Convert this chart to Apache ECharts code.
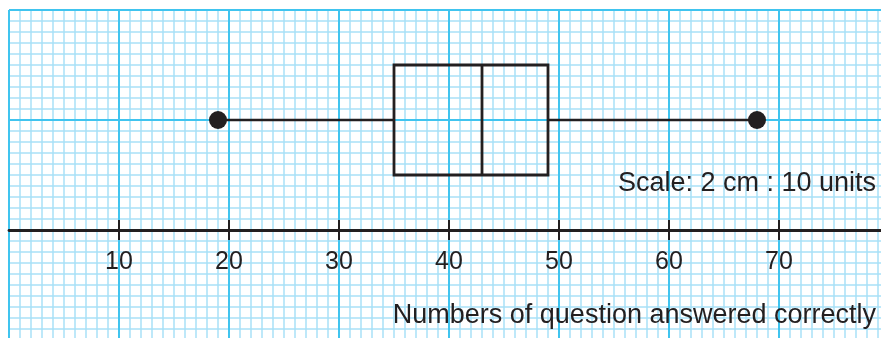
<!DOCTYPE html>
<html>
<head>
<meta charset="utf-8">
<script src="https://cdn.jsdelivr.net/npm/echarts@6/dist/echarts.min.js"></script>
<style>
html, body { margin: 0; padding: 0; background: #fff; }
#chartmain { width: 881px; height: 338px; }
</style>
</head>
<body>
<div id="chartmain"></div>
<script>
// five-number summary: min, Q1, median, Q3, max
var summaryValues = [19, 35, 43, 49, 68];
var tickValues = [10, 20, 30, 40, 50, 60, 70];
var axisTitle = 'Numbers of question answered correctly';
var scaleNote = 'Scale: 2 cm : 10 units';

var ink = '#231f20';
var majorBlue = '#40c4ef';
var minorBlue = '#a8e1f7';
var font = "'Liberation Sans', Arial, Helvetica, sans-serif";

// graph paper lines: one hidden axis per spacing
function paperAxis(interval, color, width, min, max, z) {
    return {
        gridIndex: 0, type: 'value', min: min, max: max, interval: interval, z: z,
        axisLine: { show: false, onZero: false },
        axisTick: { show: false },
        axisLabel: { show: false },
        splitLine: { show: true, lineStyle: { color: color, width: width } }
    };
}

var myChart = echarts.init(document.getElementById('chartmain'));

var option = {
    animation: false,
    grid: [
        { left: 9, top: 10, width: 880, height: 330, outerBoundsMode: 'none', containLabel: false },   // paper
        { left: 9, top: 10, width: 880, height: 220, outerBoundsMode: 'none', containLabel: false }    // plot, axis at bottom
    ],
    title: [
        { text: scaleNote, right: 5, top: 170, padding: 0,
          textStyle: { fontSize: 27, fontWeight: 'normal', color: ink, fontFamily: font } },
        { text: axisTitle, right: 5, top: 302, padding: 0,
          textStyle: { fontSize: 27, fontWeight: 'normal', color: ink, fontFamily: font } }
    ],
    xAxis: [
        paperAxis(1, minorBlue, 1.5, 0, 80, 0),
        paperAxis(10, majorBlue, 2, 0, 80, 1),
        {
            gridIndex: 1, type: 'value', min: 0, max: 80, interval: 10, position: 'bottom', z: 5,
            axisLine: { show: true, onZero: false, lineStyle: { color: ink, width: 2.8 } },
            axisTick: { show: true, customValues: tickValues, length: 10, lineStyle: { color: ink, width: 2 } },
            axisLabel: { customValues: tickValues, fontSize: 25, color: ink, margin: 20, fontFamily: font },
            splitLine: { show: false }
        },
        {
            // tick halves above the line
            gridIndex: 1, type: 'value', min: 0, max: 80, interval: 10, position: 'bottom', z: 5,
            axisLine: { show: false, onZero: false },
            axisTick: { show: true, inside: true, customValues: tickValues, length: 10, lineStyle: { color: ink, width: 2 } },
            axisLabel: { show: false, customValues: tickValues },
            splitLine: { show: false }
        }
    ],
    yAxis: [
        paperAxis(1, minorBlue, 1.5, -10, 20, 0),
        paperAxis(10, majorBlue, 2, -10, 20, 1),
        { gridIndex: 1, type: 'value', min: 0, max: 20, show: false }
    ],
    series: [{
        type: 'custom',
        xAxisIndex: 2,
        yAxisIndex: 2,
        z: 10,
        data: [summaryValues],
        renderItem: function (params, api) {
            var midY = 10, halfH = 5;
            var pMin = api.coord([api.value(0), midY]);
            var pQ1 = api.coord([api.value(1), midY]);
            var pMed = api.coord([api.value(2), midY]);
            var pQ3 = api.coord([api.value(3), midY]);
            var pMax = api.coord([api.value(4), midY]);
            var h = api.size([0, halfH])[1];
            var whisker = { stroke: ink, lineWidth: 2.4, fill: 'transparent' };
            var box = { stroke: ink, lineWidth: 2.8, fill: 'transparent' };
            return {
                type: 'group',
                children: [
                    { type: 'line', shape: { x1: pMin[0], y1: pMin[1], x2: pQ1[0], y2: pQ1[1] }, style: whisker },
                    { type: 'line', shape: { x1: pQ3[0], y1: pQ3[1], x2: pMax[0], y2: pMax[1] }, style: whisker },
                    { type: 'rect', shape: { x: pQ1[0], y: pQ1[1] - h, width: pQ3[0] - pQ1[0], height: 2 * h }, style: box },
                    { type: 'line', shape: { x1: pMed[0], y1: pMed[1] - h, x2: pMed[0], y2: pMed[1] + h }, style: box },
                    { type: 'circle', shape: { cx: pMin[0], cy: pMin[1], r: 9 }, style: { fill: ink } },
                    { type: 'circle', shape: { cx: pMax[0], cy: pMax[1], r: 9 }, style: { fill: ink } }
                ]
            };
        }
    }]
};

myChart.setOption(option);
</script>
</body>
</html>
